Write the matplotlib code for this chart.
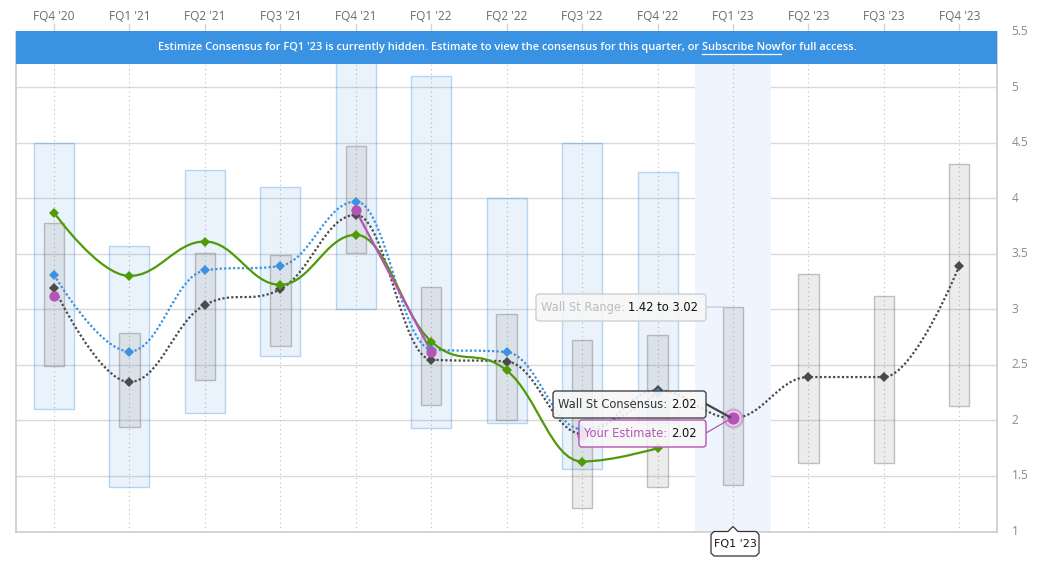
import numpy as np
import matplotlib
matplotlib.use("Agg")
import matplotlib.pyplot as plt
from matplotlib.path import Path
from matplotlib.patches import PathPatch, Rectangle, FancyBboxPatch, Polygon
from matplotlib.transforms import IdentityTransform, blended_transform_factory
from matplotlib.lines import Line2D

nan = np.nan

# ---------------- data ----------------
quarters = ["FQ4 '20", "FQ1 '21", "FQ2 '21", "FQ3 '21", "FQ4 '21", "FQ1 '22", "FQ2 '22",
            "FQ3 '22", "FQ4 '22", "FQ1 '23", "FQ2 '23", "FQ3 '23", "FQ4 '23"]
estimize_low = [2.10, 1.40, 2.07, 2.58, 3.00, 1.93, 1.98, 1.56, 1.98, nan, nan, nan, nan]
estimize_high = [4.50, 3.57, 4.25, 4.10, 5.60, 5.10, 4.00, 4.50, 4.24, nan, nan, nan, nan]
wallst_low = [2.49, 1.94, 2.36, 2.67, 3.51, 2.14, 2.00, 1.21, 1.40, 1.42, 1.62, 1.62, 2.13]
wallst_high = [3.78, 2.79, 3.51, 3.49, 4.47, 3.20, 2.96, 2.72, 2.77, 3.02, 3.32, 3.12, 4.31]
actual = [3.87, 3.30, 3.61, 3.22, 3.67, 2.71, 2.45, 1.63, 1.75, nan, nan, nan, nan]
estimize_cons = [3.31, 2.62, 3.35, 3.39, 3.97, 2.64, 2.615, 1.92, 2.25, nan, nan, nan, nan]
wallst_cons = [3.19, 2.345, 3.04, 3.18, 3.85, 2.547, 2.53, 1.88, 2.27, 2.02, 2.39, 2.39, 3.39]
your_est = [3.12, nan, nan, nan, 3.89, 2.62, nan, 1.87, nan, 2.02, nan, nan, nan]
y_ticks = [1, 1.5, 2, 2.5, 3, 3.5, 4, 4.5, 5, 5.5]
y_ticklabels = ["1", "1.5", "2", "2.5", "3", "3.5", "4", "4.5", "5", "5.5"]
selected = 9
banner_pre = "Estimize Consensus for FQ1 '23 is currently hidden. Estimate to view the consensus for this quarter, or "
banner_link = "Subscribe Now"
banner_post = "for full access."

# ---------------- figure ----------------
W, H = 1049, 566
fig = plt.figure(figsize=(W / 100, H / 100), dpi=100)
fig.patch.set_facecolor("white")
L, R, T, B = 16.3, 997.0, 31.5, 531.5
ax = fig.add_axes([L / W, 1 - B / H, (R - L) / W, (B - T) / H])
n = len(quarters)
ax.set_xlim(-0.5, n - 0.5)
ax.set_ylim(1, 5.5)
ax.set_xticks([])
ax.set_yticks([])
ax.spines["top"].set_visible(False)
for s in ["left", "right", "bottom"]:
    ax.spines[s].set_color("#cccccc")
    ax.spines[s].set_linewidth(1.2)

ID = IdentityTransform()
def P(x, y):
    return (x, H - y)

# gridlines
for yv in y_ticks[1:]:
    ax.axhline(yv, color="#dadada", lw=1.0, zorder=0)
# selected band
ax.axvspan(selected - 0.5, selected + 0.5, color="#eef5fe", zorder=0.1, lw=0)
# vertical dotted lines
for i in range(n):
    ax.axvline(i, color="#bdbdbd", lw=0.8, ls=(0, (1, 3)), zorder=0.2)

# Estimize range boxes
bw = 0.53
for i in range(n):
    lo, hi = estimize_low[i], estimize_high[i]
    if np.isnan(lo):
        continue
    ax.add_patch(Rectangle((i - bw / 2, lo), bw, hi - lo, facecolor=(58/255, 146/255, 224/255, 0.10),
                           edgecolor=(58/255, 146/255, 224/255, 0.35), lw=1.0, zorder=1))
# Wall St range boxes
gw = 0.27
for i in range(n):
    lo, hi = wallst_low[i], wallst_high[i]
    ax.add_patch(Rectangle((i - gw / 2, lo), gw, hi - lo, facecolor=(0.5, 0.5, 0.5, 0.15),
                           edgecolor=(0.45, 0.45, 0.45, 0.42), lw=1.0, zorder=1.2))

# Highcharts-like spline
def spline_segments(vals, smoothing=1.5):
    xs_all = np.arange(len(vals))
    segs, cur = [], []
    for x, v in zip(xs_all, vals):
        if np.isnan(v):
            if cur:
                segs.append(cur)
            cur = []
        else:
            cur.append((float(x), float(v)))
    if cur:
        segs.append(cur)
    paths = []
    for seg in segs:
        m = len(seg)
        if m < 2:
            continue
        lc = [None] * m
        rc = [None] * m
        d = smoothing + 1
        for i in range(1, m - 1):
            x, y = seg[i]
            lx, ly = seg[i - 1]
            nx_, ny_ = seg[i + 1]
            lcx = (smoothing * x + lx) / d
            lcy = (smoothing * y + ly) / d
            rcx = (smoothing * x + nx_) / d
            rcy = (smoothing * y + ny_) / d
            if rcx != lcx:
                corr = (rcy - lcy) * (rcx - x) / (rcx - lcx) + y - rcy
                lcy += corr
                rcy += corr
            if lcy > ly and lcy > y:
                lcy = max(ly, y); rcy = 2 * y - lcy
            elif lcy < ly and lcy < y:
                lcy = min(ly, y); rcy = 2 * y - lcy
            if rcy > ny_ and rcy > y:
                rcy = max(ny_, y); lcy = 2 * y - rcy
            elif rcy < ny_ and rcy < y:
                rcy = min(ny_, y); lcy = 2 * y - rcy
            lc[i] = (lcx, lcy)
            rc[i] = (rcx, rcy)
        verts = [seg[0]]
        codes = [Path.MOVETO]
        for i in range(1, m):
            c1 = rc[i - 1] if rc[i - 1] is not None else seg[i - 1]
            c2 = lc[i] if lc[i] is not None else seg[i]
            verts += [c1, c2, seg[i]]
            codes += [Path.CURVE4] * 3
        paths.append(Path(verts, codes))
    return paths

def draw_series(vals, color, lw, ls, z):
    for p in spline_segments(vals):
        ax.add_patch(PathPatch(p, facecolor="none", edgecolor=color, lw=lw, ls=ls, zorder=z,
                               capstyle="butt"))

blue = "#3a92e0"
green = "#4f9a08"
gray = "#4a4a4a"
pink = "#b455b6"
draw_series(wallst_cons, gray, 1.6, (0, (1, 1)), 3)
draw_series(estimize_cons, blue, 1.6, (0, (1, 1)), 3.2)
draw_series(actual, green, 1.6, "-", 3.4)
draw_series(your_est, pink, 1.6, "-", 3.6)

xs = np.arange(n)
ax.plot(xs, wallst_cons, ls="none", marker="D", ms=4.8, color=gray, mew=0, zorder=4)
ax.plot(xs, estimize_cons, ls="none", marker="D", ms=4.8, color=blue, mew=0, zorder=4.1)
ax.plot(xs, actual, ls="none", marker="D", ms=4.8, color=green, mew=0, zorder=4.2)
ye = np.array(your_est, dtype=float)
mask = np.arange(n) != selected
ax.plot(xs[mask], ye[mask], ls="none", marker="o", ms=7.4, color=pink, mew=0, zorder=4.3)
# selected point with halo
ax.plot([selected], [your_est[selected]], ls="none", marker="o", ms=14.5, color=pink, alpha=0.4,
        mew=0, zorder=6)
ax.plot([selected], [your_est[selected]], ls="none", marker="o", ms=10, color=pink,
        mec="#ead2ea", mew=1.2, zorder=6.1)

# ---------------- banner ----------------
fig.add_artist(Rectangle(P(L, 64), R - L, 33, transform=ID, facecolor="#3a92e2",
                         edgecolor="none", zorder=10))
fig.canvas.draw()
renderer = fig.canvas.get_renderer()
bfont = dict(fontsize=7.95, color="white", family="Open Sans", fontweight="semibold")
parts = [banner_pre, banner_link, banner_post]
widths = []
for ptxt in parts:
    t = fig.text(0, 0, ptxt, **bfont)
    widths.append(t.get_window_extent(renderer).width)
    t.remove()
total = sum(widths)
x0 = 507.5 - total / 2
xc = x0
for ptxt, w in zip(parts, widths):
    fig.text(xc, H - 47.5, ptxt, transform=ID, va="center", ha="left", zorder=11, **bfont)
    if ptxt == banner_link:
        fig.add_artist(Line2D([xc, xc + w], [H - 53.5, H - 53.5], transform=ID, color="white",
                              lw=0.9, zorder=11))
    xc += w

# top category labels and ticks
bt = blended_transform_factory(ax.transData, ID)
for i, q in enumerate(quarters):
    ax.text(i, H - 17, q, transform=bt, ha="center", va="center", fontsize=8.6,
            family="Open Sans", color="#6a6a6a", clip_on=False)
    ax.add_line(Line2D([i, i], [H - 24, H - 31], transform=bt, color="#ccd6eb", lw=1.0,
                       clip_on=False))

# right y labels
bty = blended_transform_factory(ID, ax.transData)
for yv, lab in zip(y_ticks, y_ticklabels):
    ax.text(1011.5, yv, lab, transform=bty, ha="left", va="center", fontsize=8.6,
            family="Open Sans", color="#8a8a8a", clip_on=False)

# ---------------- tooltips ----------------
tfont = dict(fontsize=8.3, family="DejaVu Sans")
def tooltip(x1, y1, x2, y2, edge, pieces):
    fig.add_artist(FancyBboxPatch(P(x1, y2), x2 - x1, y2 - y1, boxstyle="round,pad=0,rounding_size=3",
                                  transform=ID, facecolor=(0.97, 0.97, 0.97, 0.88), edgecolor=edge,
                                  lw=1.0, zorder=20))
    xc = x1 + 5
    for txt, col in pieces:
        t = fig.text(xc, H - (y1 + y2) / 2, txt, transform=ID, va="center", ha="left",
                     color=col, zorder=21, **tfont)
        xc += t.get_window_extent(renderer).width

sel_y_px = B - (your_est[selected] - 1) * (B - T) / 4.5
sel_x_px = L + (selected + 0.5) * (R - L) / n
top_px = B - (wallst_high[selected] - 1) * (B - T) / 4.5
# connectors
fig.add_artist(Line2D([706, sel_x_px - 8], [H - 307, H - top_px], transform=ID, color="#cccccc",
                      lw=1.0, zorder=19))
fig.add_artist(Line2D([706, sel_x_px - 3], [H - 404, H - sel_y_px + 1], transform=ID, color="#444444",
                      lw=1.6, zorder=19))
fig.add_artist(Line2D([706, sel_x_px - 3], [H - 433, H - sel_y_px - 1], transform=ID, color=pink,
                      lw=0.9, zorder=19))
tooltip(536, 294, 706, 321, "#cfcfcf", [("Wall St Range: ", "#bdbdbd"),
                                         (f"{wallst_low[selected]:.2f} to {wallst_high[selected]:.2f}", "#111111")])
tooltip(553, 391, 706, 418, "#444444", [("Wall St Consensus: ", "#333333"),
                                         (f"{wallst_cons[selected]:.2f}", "#111111")])
tooltip(579, 420, 706, 447, pink, [("Your Estimate: ", pink),
                                   (f"{your_est[selected]:.2f}", "#111111")])

# bottom selected label with pointer
lx1, lx2, ly1, ly2 = 711, 759, 531.5, 556
fig.add_artist(Polygon([P(lx1 + 3, ly1), P(sel_x_px - 5, ly1), P(sel_x_px, ly1 - 5),
                        P(sel_x_px + 5, ly1), P(lx2 - 3, ly1), P(lx2, ly1 + 3), P(lx2, ly2 - 3),
                        P(lx2 - 3, ly2), P(lx1 + 3, ly2), P(lx1, ly2 - 3), P(lx1, ly1 + 3)],
                       closed=True, transform=ID, facecolor="white", edgecolor="#333333",
                       lw=0.9, zorder=20))
fig.text((lx1 + lx2) / 2, H - (ly1 + ly2) / 2 - 0.5, quarters[selected], transform=ID, ha="center",
         va="center", fontsize=8, family="DejaVu Sans", color="#111111", zorder=21)

fig.savefig("out.png", dpi=100)
